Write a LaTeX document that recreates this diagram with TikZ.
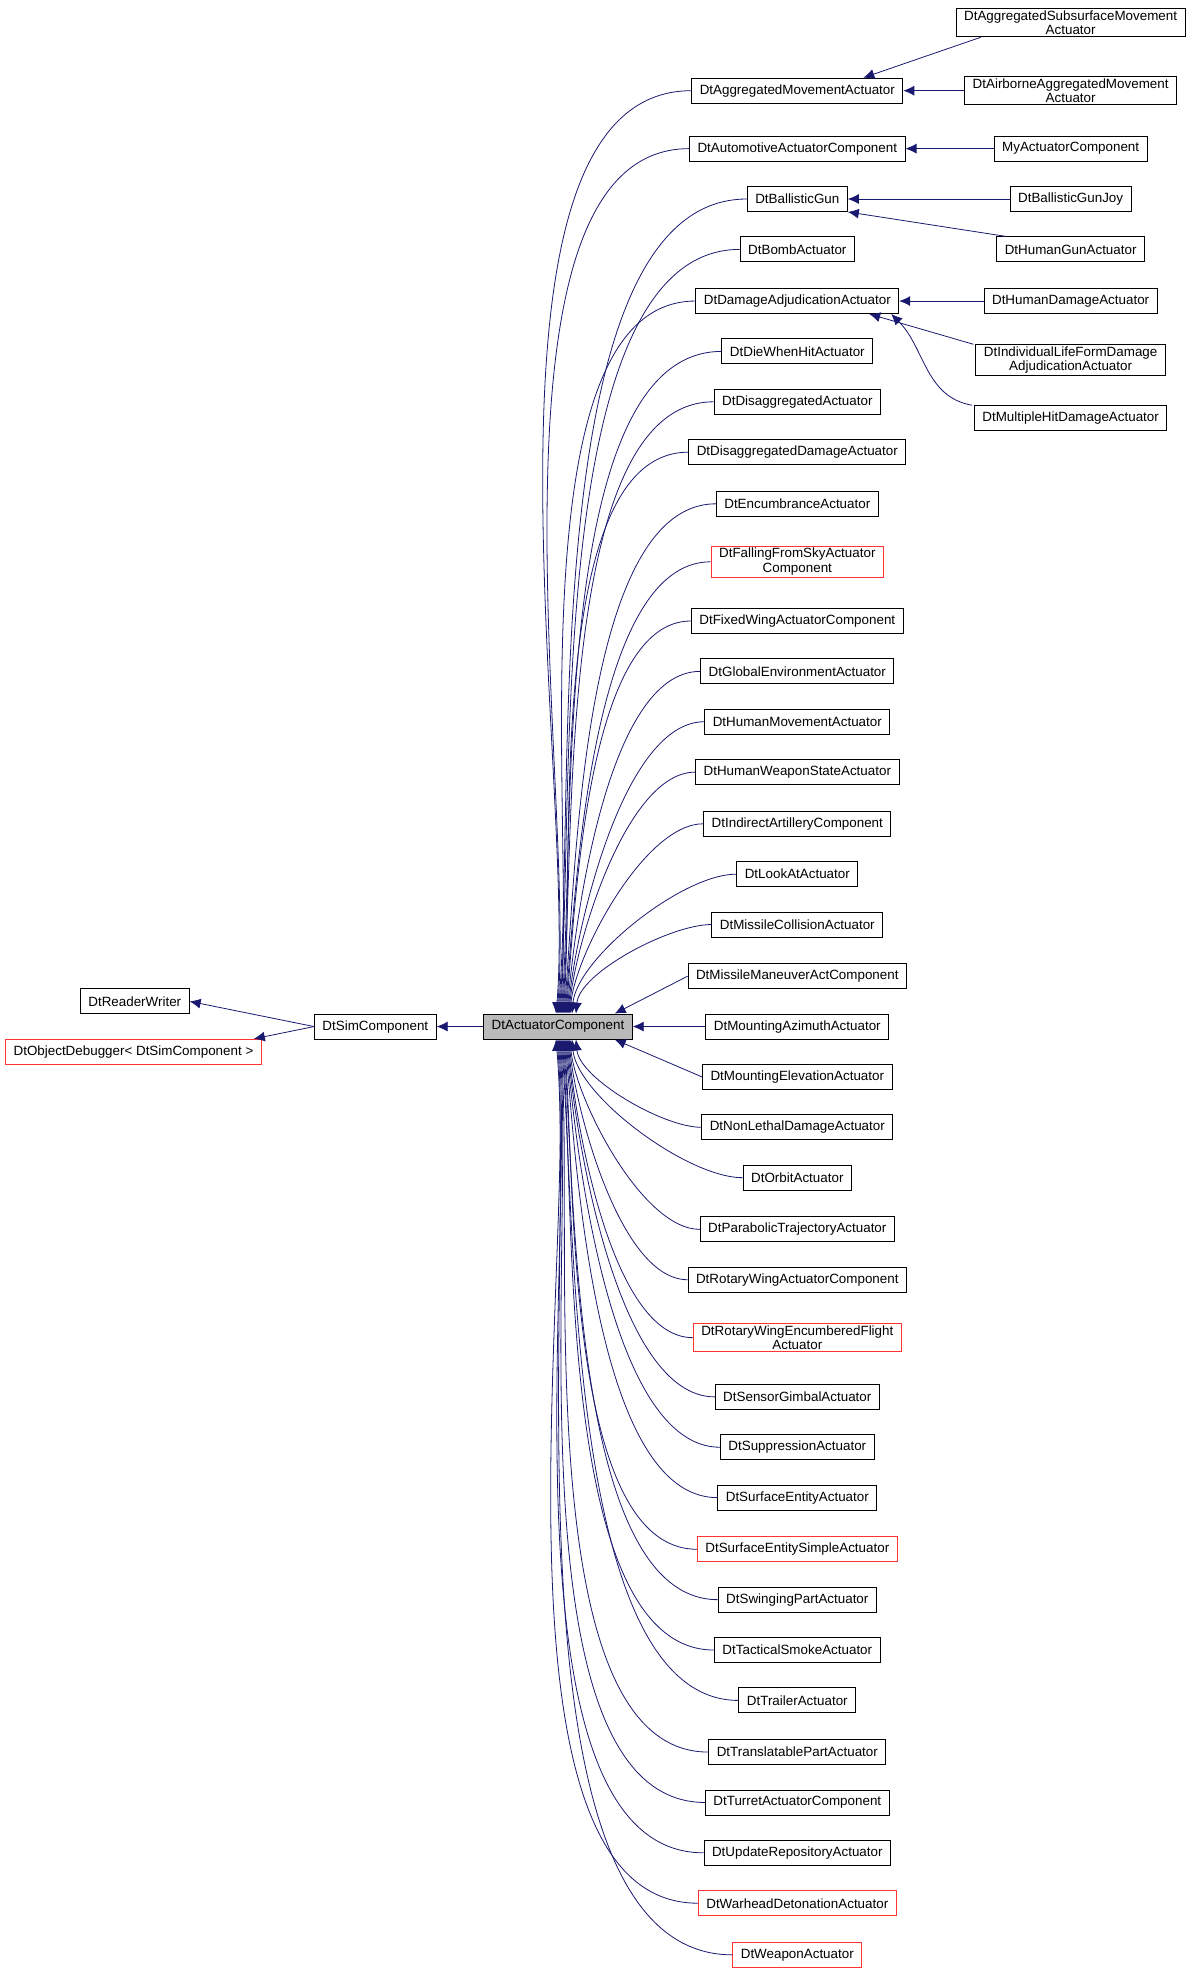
\documentclass[tikz,border=0pt]{standalone}
\usepackage{fontspec}
\setmainfont{Liberation Sans}
\usetikzlibrary{arrows.meta, positioning}
\definecolor{edgeblue}{HTML}{191970}

\begin{document}
\begin{tikzpicture}[
	x=1.26pt, y=-1.26pt,
	cls/.style={rectangle, draw, fill=white, font=\fontsize{13.4}{14.5}\selectfont,
		inner xsep=8pt, inner ysep=2pt, minimum height=25pt, align=center, line width=0.9pt},
	redcls/.style={cls, draw=red!80},
	base/.style={cls, fill=black!27},
	line/.style={draw=edgeblue, line width=0.8pt, -{Latex[length=11pt, width=10pt]}},
	]
	\useasboundingbox (0,0) rectangle (946,1568);

	% central class and its parents
	\node [base] (act) at (443,815) {DtActuatorComponent};
	\node [cls] (sim) at (298,815) {DtSimComponent};
	\node [cls] (rw) at (107,795) {DtReaderWriter};
	\node [redcls] (dbg) at (106,835) {DtObjectDebugger< DtSimComponent >};
	\path [line] (act) -- (sim);
	\path [line] (sim.west) -- (rw.east);
	\path [line] (sim.west) -- ([xshift=-8pt]dbg.north east);

	% derived classes, curved into the top
	\foreach \nm/\lab/\y/\st/\dx in {
		agg/DtAggregatedMovementActuator/72/cls/-2,
		auto/DtAutomotiveActuatorComponent/118/cls/-1,
		gun/DtBallisticGun/158/cls/0,
		bomb/DtBombActuator/198/cls/1,
		dmg/DtDamageAdjudicationActuator/239/cls/2,
		die/DtDieWhenHitActuator/279/cls/3,
		dis/DtDisaggregatedActuator/319/cls/4,
		disd/DtDisaggregatedDamageActuator/359/cls/5,
		enc/DtEncumbranceActuator/400/cls/6,
		fall/{DtFallingFromSkyActuator\\Component}/446/redcls/7,
		fix/DtFixedWingActuatorComponent/493/cls/8,
		glob/DtGlobalEnvironmentActuator/533/cls/9,
		hmov/DtHumanMovementActuator/573/cls/10,
		hws/DtHumanWeaponStateActuator/613/cls/11,
		ind/DtIndirectArtilleryComponent/654/cls/12,
		look/DtLookAtActuator/694/cls/14,
		mcol/DtMissileCollisionActuator/734/cls/18}
	{
		\node [\st] (\nm) at (633,\y) {\lab};
		\path [line] (\nm.west) to[out=180, in=85, looseness=0.65] ([xshift=\dx pt]act.north);
	}

	% derived classes, straight
	\node [cls] (mman) at (633,775) {DtMissileManeuverActComponent};
	\node [cls] (maz) at (633,815) {DtMountingAzimuthActuator};
	\node [cls] (mel) at (633,855) {DtMountingElevationActuator};
	\path [line] (mman.west) -- ([xshift=-18pt]act.north east);
	\path [line] (maz.west) -- (act.east);
	\path [line] (mel.west) -- ([xshift=-18pt]act.south east);

	% derived classes, curved into the bottom
	\foreach \nm/\lab/\y/\st/\dx in {
		nld/DtNonLethalDamageActuator/895/cls/18,
		orb/DtOrbitActuator/935/cls/14,
		par/DtParabolicTrajectoryActuator/976/cls/12,
		rwac/DtRotaryWingActuatorComponent/1016/cls/11,
		rwef/{DtRotaryWingEncumberedFlight\\Actuator}/1062/redcls/10,
		gimb/DtSensorGimbalActuator/1109/cls/9,
		sup/DtSuppressionActuator/1149/cls/8,
		surf/DtSurfaceEntityActuator/1189/cls/7,
		surfs/DtSurfaceEntitySimpleActuator/1230/redcls/6,
		swing/DtSwingingPartActuator/1270/cls/5,
		smoke/DtTacticalSmokeActuator/1310/cls/4,
		trail/DtTrailerActuator/1350/cls/3,
		trans/DtTranslatablePartActuator/1391/cls/2,
		tur/DtTurretActuatorComponent/1431/cls/1,
		upd/DtUpdateRepositoryActuator/1471/cls/0,
		war/DtWarheadDetonationActuator/1511/redcls/-1,
		weap/DtWeaponActuator/1552/redcls/-2}
	{
		\node [\st] (\nm) at (633,\y) {\lab};
		\path [line] (\nm.west) to[out=180, in=-85, looseness=0.65] ([xshift=\dx pt]act.south);
	}

	% second level
	\node [cls] (aggs) at (850,18) {DtAggregatedSubsurfaceMovement\\Actuator};
	\node [cls] (aggair) at (850,72) {DtAirborneAggregatedMovement\\Actuator};
	\node [cls] (my) at (850,118) {MyActuatorComponent};
	\node [cls] (joy) at (850,158) {DtBallisticGunJoy};
	\node [cls] (hgun) at (850,198) {DtHumanGunActuator};
	\node [cls] (hdmg) at (850,239) {DtHumanDamageActuator};
	\node [cls] (life) at (850,286) {DtIndividualLifeFormDamage\\AdjudicationActuator};
	\node [cls] (multi) at (850,332) {DtMultipleHitDamageActuator};
	\path [line] ([xshift=25pt]aggs.south west) -- ([xshift=-40pt]agg.north east);
	\path [line] (aggair) -- (agg);
	\path [line] (my) -- (auto);
	\path [line] (joy) -- (gun);
	\path [line] ([xshift=10pt]hgun.north west) -- (gun.south east);
	\path [line] (hdmg) -- (dmg);
	\path [line] ([xshift=-2pt]life.north west) -- ([xshift=-30pt]dmg.south east);
	\path [line] ([xshift=-2pt]multi.north west) to[out=170, in=-45] ([xshift=-8pt]dmg.south east);
\end{tikzpicture}
\end{document}
